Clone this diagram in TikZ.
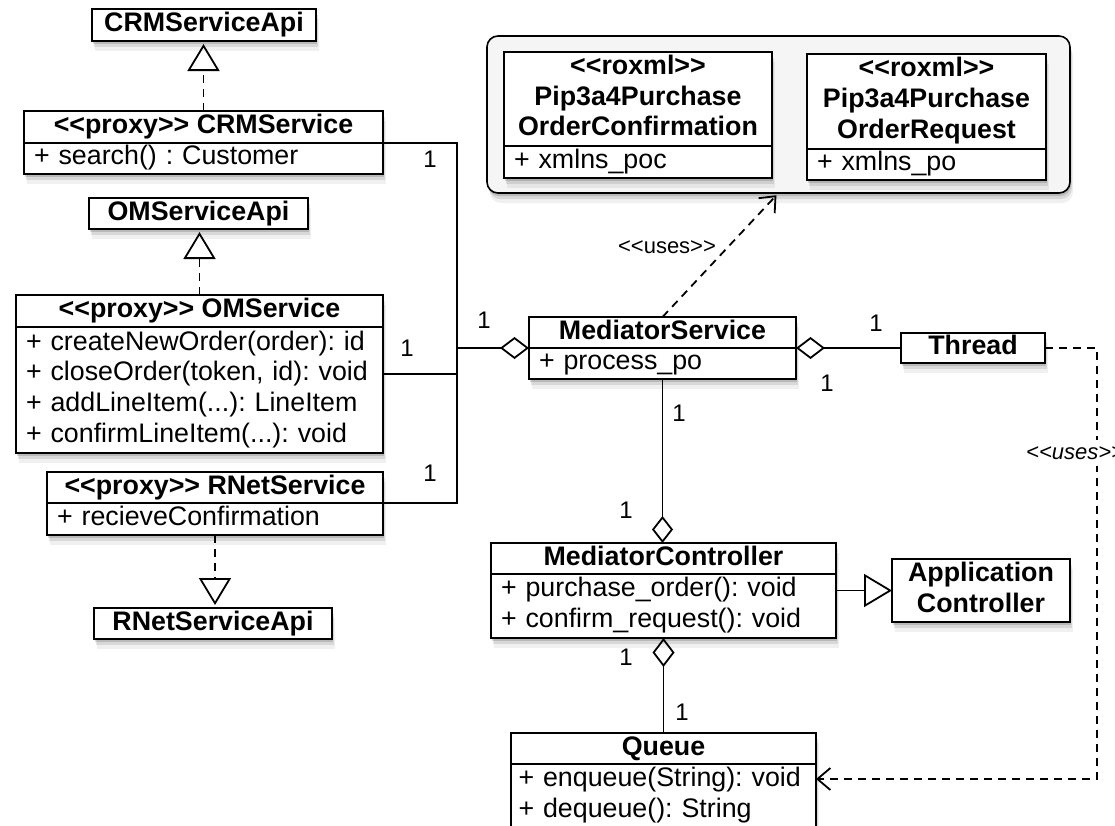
\documentclass[tikz,border=0pt]{standalone}
\usepackage{fontspec}
\setmainfont{Liberation Sans}[Ligatures=TeXOff]
\usetikzlibrary{arrows.meta,shadows}
\begin{document}
\frenchspacing
\begin{tikzpicture}[x=1pt,y=-1pt,
  shd/.style={general shadow={fill=black,opacity=0.14,shadow xshift=1pt,shadow yshift=-3pt},
              general shadow={fill=black,opacity=0.10,shadow xshift=2pt,shadow yshift=-6pt},
              general shadow={fill=black,opacity=0.06,shadow xshift=3pt,shadow yshift=-10pt}},
  box/.style={draw,line width=2pt,fill=white,inner sep=0pt,outer sep=0pt,anchor=north west,shd},
  hdr/.style={box,font=\bfseries\fontsize{26.8pt}{30.7pt}\selectfont,text height=19.2pt,text depth=5.5pt},
  hdrml/.style={box,font=\bfseries\fontsize{26.8pt}{30.7pt}\selectfont,align=center},
  body/.style={box,font=\fontsize{26.8pt}{30.7pt}\selectfont,align=left,inner xsep=10pt},
  pkgbox/.style={draw,line width=1.6pt,fill=black!4,rounded corners=11pt,inner sep=0pt,outer sep=0pt,anchor=north west,shd},
  mult/.style={font=\fontsize{24pt}{28pt}\selectfont,inner sep=0pt},
  lbl/.style={font=\fontsize{22pt}{26pt}\selectfont,inner sep=1pt},
  assoc/.style={line width=1.8pt},
  depline/.style={line width=1.8pt,dash pattern=on 8pt off 6pt},
  real/.style={depline,-{Triangle[open,length=27pt,width=32pt,line width=1.8pt]},shorten >=3pt},
  gen/.style={assoc,-{Triangle[open,length=28pt,width=33pt,line width=1.8pt]}},
  usesarrow/.style={depline,-{Straight Barb[length=13pt,width=22pt,line width=1.8pt]}},
  aggh/.style={assoc,{Diamond[open,length=29pt,width=22pt,line width=1.8pt]}-},
  aggv/.style={assoc,-{Diamond[open,length=27pt,width=21pt,line width=1.8pt]}}
]
\useasboundingbox (0,0) rectangle (1115,825);
\clip (0,0) rectangle (1115,825);

% package with the two roxml classes
\node[pkgbox,minimum width=583pt,minimum height=157pt] (pkg) at (487,36) {};
\node[hdrml,minimum width=268pt,minimum height=94pt] (pocH) at (504,52)
  {\strut<<roxml>>\\Pip3a4Purchase\\OrderConfirmation\strut};
\node[body,minimum width=268pt,minimum height=32pt,text width=248pt] (pocB) at (504,146)
  {\strut+ xmlns\_poc\strut};
\node[hdrml,minimum width=239pt,minimum height=95pt] (porH) at (807,54)
  {\strut<<roxml>>\\Pip3a4Purchase\\OrderRequest\strut};
\node[body,minimum width=239pt,minimum height=31pt,text width=219pt] (porB) at (807,149)
  {\strut+ xmlns\_po\strut};

% left column
\node[hdr,minimum width=224pt,minimum height=32pt] (crmApi) at (92,9) {CRMServiceApi};
\node[hdr,minimum width=359pt,minimum height=32pt] (crmH) at (24,111) {<<proxy>> CRMService};
\node[body,minimum width=359pt,minimum height=30pt,text width=339pt] (crmB) at (24,143)
  {\strut+ search() : Customer\strut};
\node[hdr,minimum width=219pt,minimum height=31pt] (omApi) at (89,198) {OMServiceApi};
\node[hdr,minimum width=367pt,minimum height=32pt] (omH) at (16,295) {<<proxy>> OMService};
\node[body,minimum width=367pt,minimum height=126pt,text width=347pt] (omB) at (16,327)
  {\strut+ createNewOrder(order): id\\+ closeOrder(token, id): void\\+ addLineItem(...): LineItem\\+ confirmLineItem(...): void\strut};
\node[hdr,minimum width=336pt,minimum height=31pt] (rnH) at (47,472) {<<proxy>> RNetService};
\node[body,minimum width=336pt,minimum height=32pt,text width=316pt] (rnB) at (47,503)
  {\strut+ recieveConfirmation\strut};
\node[hdr,minimum width=238pt,minimum height=31pt] (rnApi) at (94,608) {RNetServiceApi};

% mediator part
\node[hdr,minimum width=267pt,minimum height=31pt] (msH) at (529,317) {MediatorService};
\node[body,minimum width=267pt,minimum height=31pt,text width=247pt] (msB) at (529,348)
  {\strut+ process\_po\strut};
\node[hdr,minimum width=144pt,minimum height=30pt] (thread) at (901,333) {Thread};
\node[hdr,minimum width=345pt,minimum height=31pt] (mcH) at (491,543) {MediatorController};
\node[body,minimum width=345pt,minimum height=64pt,text width=325pt] (mcB) at (491,574)
  {\strut+ purchase\_order(): void\\+ confirm\_request(): void\strut};
\node[hdrml,minimum width=178pt,minimum height=63pt] (appc) at (892,559)
  {\strut Application\\Controller\strut};
\node[hdr,minimum width=305pt,minimum height=31pt] (qH) at (511,733) {Queue};
\node[body,minimum width=305pt,minimum height=64pt,text width=290pt,inner xsep=7.5pt] (qB) at (511,764)
  {\strut\mbox{+ enqueue(String): void}\\+ dequeue(): String\strut};

% realizations
\draw[real] (crmH.north) -- (crmH.north |- crmApi.south);
\draw[real] (omH.north) -- (omH.north |- omApi.south);
\draw[real] (rnB.south) -- (rnB.south |- rnApi.north);

% associations to MediatorService
\coordinate (jn) at (457,348);
\coordinate (omC) at ([yshift=16pt]omB.east);
\draw[assoc] (crmB.north east) -| (jn);
\draw[assoc] (rnB.north east) -| (jn);
\draw[assoc] (omC) -- (omC -| jn);
\draw[aggh,line width=2.4pt] (msH.south west) -- (jn);
\draw[aggh] (msH.south east) -- (thread.west);
\draw[aggv] (msB.south) -- (msB.south |- mcH.north);
\draw[aggh] (mcB.south) -- (mcB.south |- qH.north);
\draw[gen] (mcB.east |- appc.west) -- (appc.west);

% uses dependencies
\draw[usesarrow,shorten >=3pt] (msH.north) -- (pkg.south);
\node[lbl] (uses1) at (667,247) {<<uses>>};
\coordinate (turn) at (1097,0);
\coordinate (qE) at ([yshift=-15pt]qB.north east);
\draw[usesarrow] (thread.east) -- (thread.east -| turn) -- (turn |- qE) -- (qE);
\node[lbl,fill=white,font=\itshape\fontsize{22pt}{26pt}\selectfont,inner ysep=6pt,anchor=west] (uses2) at (1025,453) {<<uses>>};

% multiplicities
\node[mult] (m1) at (430,159) {1};
\node[mult] (m2) at (407,348) {1};
\node[mult] (m3) at (430,473) {1};
\node[mult] (m4) at (484,320) {1};
\node[mult] (m5) at (876,323) {1};
\node[mult] (m6) at (827,383) {1};
\node[mult] (m7) at (679,413) {1};
\node[mult] (m8) at (626,510) {1};
\node[mult] (m9) at (626,657) {1};
\node[mult] (m10) at (682,712) {1};
\end{tikzpicture}
\end{document}
